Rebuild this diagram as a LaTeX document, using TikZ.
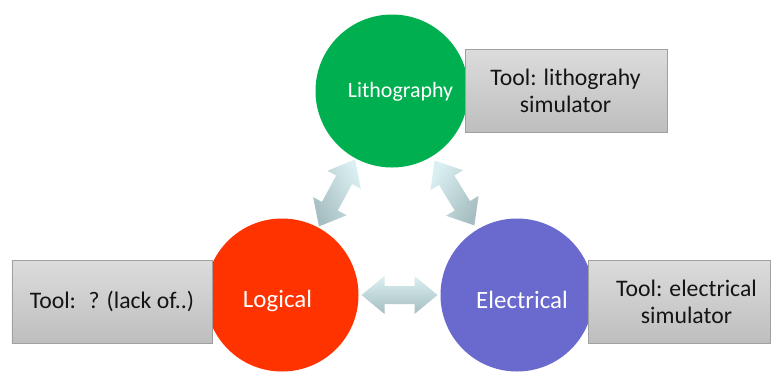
\documentclass[tikz,border=0pt]{standalone}
\usepackage{fontspec}
\setmainfont{Carlito}
\usetikzlibrary{calc}

\definecolor{lithogreen}{RGB}{0,176,80}
\definecolor{logicred}{RGB}{255,51,0}
\definecolor{elecblue}{RGB}{106,106,206}
\definecolor{arrowtop}{RGB}{218,239,241}
\definecolor{arrowbot}{RGB}{166,190,193}
\definecolor{boxtop}{RGB}{220,220,220}
\definecolor{boxbot}{RGB}{190,190,190}
\definecolor{boxline}{RGB}{160,160,160}
\definecolor{tooltext}{RGB}{20,20,20}

\tikzset{
  stage/.style={circle, minimum size=153bp, inner sep=0pt},
  stagetext/.style={anchor=base, inner sep=0pt, text=white,
    font=\fontsize{25}{30}\selectfont},
  toolbox/.style={rectangle, draw=boxline, line width=0.7bp,
    top color=boxtop, bottom color=boxbot, inner sep=0pt,
    minimum height=83bp},
  tooltextstyle/.style={align=center, text=tooltext, inner sep=0pt,
    font=\fontsize{23.8}{27}\selectfont},
  % two-headed block arrow, shaded top to bottom on the page
  pics/dblarrow/.style={code={
    \shade[top color=arrowtop, bottom color=arrowbot, shading angle={-(#1)}]
      (-38,0) -- (-15,19) -- (-15,9) -- (15,9) -- (15,19) -- (38,0)
      -- (15,-19) -- (15,-9) -- (-15,-9) -- (-15,-19) -- cycle;
  }}
}

\begin{document}
\begin{tikzpicture}[x=1bp, y=-1bp]
  \useasboundingbox (0,0) rectangle (774,382);
  \fill[white] (0,0) rectangle (774,382);

  % the three stages
  \node[stage, fill=lithogreen] (lit) at (392,91) {};
  \node[stage, fill=logicred] (log) at (282,295) {};
  \node[stage, fill=elecblue] (ele) at (517,295) {};
  \node[stagetext, font=\fontsize{22}{26}\selectfont] (littext) at ($(lit)+(8.5,6)$) {Lithography};
  \node[stagetext] (logtext) at ($(log)+(-4.5,12)$) {Logical};
  \node[stagetext] (eletext) at ($(ele)+(5,13)$) {Electrical};

  % two-way arrows between the stages
  \path let \p1 = ($(lit)-(log)$), \n1 = {atan2(\y1,\x1)} in
    ($(log)!0.5!(lit)$) pic[rotate=\n1] {dblarrow=\n1};
  \path let \p1 = ($(ele)-(lit)$), \n1 = {atan2(\y1,\x1)} in
    ($(lit)!0.5!(ele)$) pic[rotate=\n1] {dblarrow=\n1};
  \path ($(log)!0.5!(ele)$) pic {dblarrow=0};

  % tool boxes
  \node[toolbox, minimum width=202bp] (litbox) at (566,90.5) {};
  \node[toolbox, minimum width=200bp] (logbox) at (112,301.5) {};
  \node[toolbox, minimum width=182bp] (elebox) at (679,301.5) {};
  \node[tooltextstyle] (littool) at ($(litbox)+(-0.5,0)$) {Tool: lithograhy\\simulator};
  \node[tooltextstyle] (logtool) at (logbox) {Tool: \ ? (lack of..)};
  \node[tooltextstyle] (eletool) at ($(elebox)+(7.5,0)$) {Tool: electrical\\simulator};
\end{tikzpicture}
\end{document}
